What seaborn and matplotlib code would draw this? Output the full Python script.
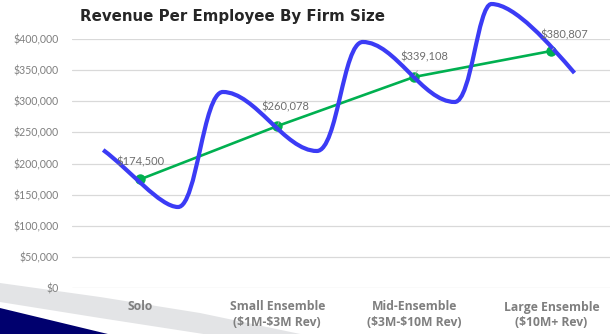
import numpy as np
import pandas as pd
import seaborn as sns
import matplotlib.pyplot as plt
from matplotlib.patches import Polygon, PathPatch
from matplotlib.path import Path
from matplotlib.ticker import FuncFormatter, MultipleLocator

# data
firm_sizes = ['Solo', 'Small Ensemble\n($1M-$3M Rev)', 'Mid-Ensemble\n($3M-$10M Rev)',
              'Large Ensemble\n($10M+ Rev)']
revenue = [174500, 260078, 339108, 380807]

# decorative blue swirl, traced from the picture as bezier anchors/handles
# (x in category units, y in $)
wave_x = [-0.269, -0.073, 0.146, 0.277, 0.415, 0.459, 0.604, 0.837, 1.056, 1.289,
          1.442, 1.478, 1.624, 1.857, 2.061, 2.294, 2.418, 2.461, 2.563, 2.731, 2.986, 3.168]
wave_y = [221700, 189600, 130100, 130100, 130100, 314900, 314900, 314900, 220100, 220100,
          220100, 395200, 395200, 395200, 298800, 298800, 298800, 456200, 456200, 456200,
          392000, 345400]

df = pd.DataFrame({'pos': range(len(revenue)), 'revenue': revenue})

sns.set_theme(style='white')
plt.rcParams['font.family'] = ['Lato', 'DejaVu Sans']
plt.rcParams['text.parse_math'] = False

fig = plt.figure(figsize=(6.1, 3.34), dpi=100)
ax = fig.add_axes([71.5 / 610, 46 / 334, 548.5 / 610, 249 / 334])
ax.patch.set_alpha(0)

green = '#00b050'
blue = '#3b3bf5'

sns.lineplot(data=df, x='pos', y='revenue', color=green, linewidth=1.9, marker='o',
             markersize=7.5, markeredgewidth=0, ax=ax, zorder=3)

codes = [Path.MOVETO] + [Path.CURVE4] * (len(wave_x) - 1)
wave = PathPatch(Path(np.column_stack([wave_x, wave_y]), codes), facecolor='none',
                 edgecolor=blue, linewidth=3.0, capstyle='butt', transform=ax.transData,
                 clip_on=False, zorder=4)
ax.add_patch(wave)

ax.set_xlim(-0.5, 3.5)
ax.set_ylim(0, 400000)
ax.yaxis.set_major_locator(MultipleLocator(50000))
ax.yaxis.set_major_formatter(FuncFormatter(lambda v, p: '${:,.0f}'.format(v)))
ax.set_xticks(df['pos'])
ax.set_xticklabels(firm_sizes, fontweight='bold', fontsize=8.7, color='#7f7f7f',
                   linespacing=1.25, family=['Open Sans', 'DejaVu Sans'])
ax.tick_params(axis='y', labelsize=7.6, labelcolor='#7f7f7f', length=0, pad=9.5)
ax.tick_params(axis='x', length=0, pad=9)
ax.grid(axis='y', color='#d9d9d9', linewidth=0.9)
ax.grid(axis='x', visible=False)
sns.despine(ax=ax, left=True, bottom=True)
ax.set_xlabel('')
ax.set_ylabel('')

# data labels
offsets = [(0, 8.5), (6, 9.5), (7, 10.5), (9, 7.5)]
for i, v in enumerate(revenue):
    leader = None if i == 0 else dict(arrowstyle='-', color='#a6a6a6', lw=0.6,
                                       shrinkA=4, shrinkB=1)
    ax.annotate('${:,.0f}'.format(v), xy=(i, v), xytext=offsets[i],
                textcoords='offset points', ha='center', va='bottom', fontsize=8,
                color='#6e6e6e', arrowprops=leader, zorder=5)

fig.text(80 / 610, 1 - 17 / 334, 'Revenue Per Employee By Firm Size',
         family=['DejaVu Sans'], fontweight='bold', fontsize=10.8, color='#262626',
         ha='left', va='center')

# corner decoration
def px(pts):
    return [(x / 610, 1 - y / 334) for x, y in pts]

grey_band = Polygon(px([(0, 283), (100, 297), (200, 313), (305, 335), (210, 335),
                        (100, 318), (0, 302)]), closed=True, transform=fig.transFigure,
                    facecolor='#e3e4e6', edgecolor='none', zorder=-1)
navy = Polygon(px([(0, 308), (112, 335), (0, 335)]), closed=True, transform=fig.transFigure,
               facecolor='#00006e', edgecolor='none', zorder=-1)
fig.patches.extend([grey_band, navy])

fig.savefig('out.png', dpi=100)
